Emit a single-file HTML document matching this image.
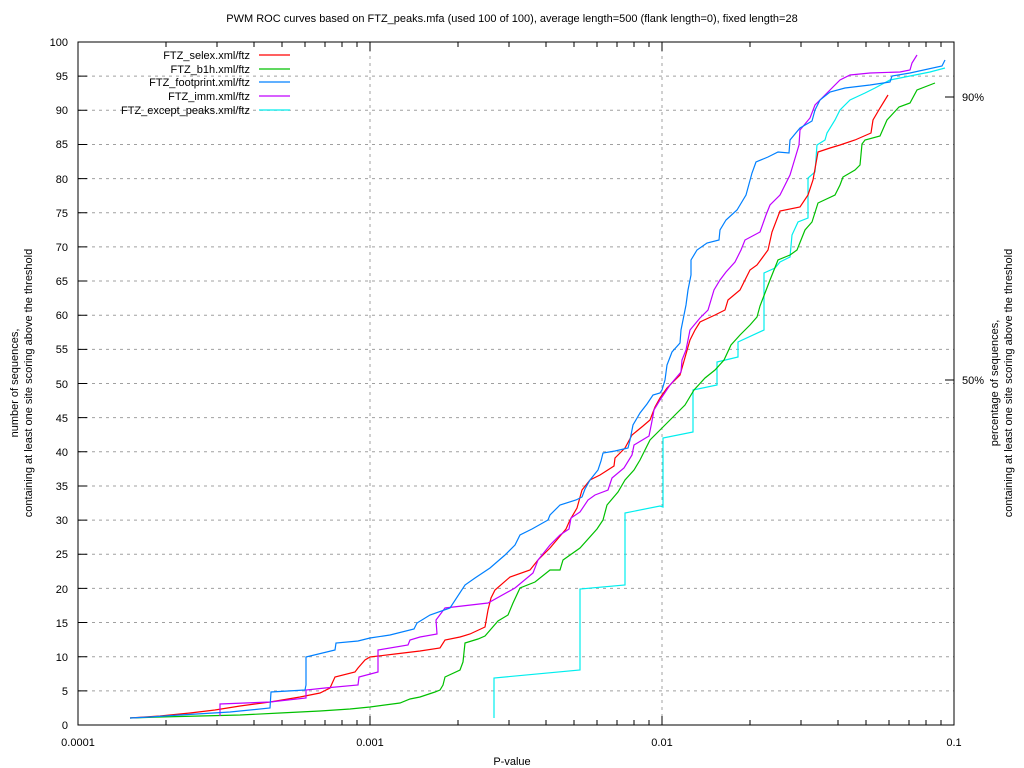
<!DOCTYPE html>
<html><head><meta charset="utf-8"><style>
body{margin:0;background:#fff}
svg{display:block;font-family:"Liberation Sans",sans-serif;font-size:11px}
</style></head><body>
<svg width="1024" height="768" viewBox="0 0 1024 768">
<rect width="1024" height="768" fill="#fff"/>
<text x="512" y="22" text-anchor="middle">PWM ROC curves based on FTZ_peaks.mfa (used 100 of 100), average length=500 (flank length=0), fixed length=28</text>
<g stroke="#a0a0a0" stroke-dasharray="3,4" stroke-width="1">
<line x1="78" x2="954" y1="690.85" y2="690.85"/><line x1="78" x2="954" y1="656.7" y2="656.7"/><line x1="78" x2="954" y1="622.55" y2="622.55"/><line x1="78" x2="954" y1="588.4" y2="588.4"/><line x1="78" x2="954" y1="554.25" y2="554.25"/><line x1="78" x2="954" y1="520.1" y2="520.1"/><line x1="78" x2="954" y1="485.95" y2="485.95"/><line x1="78" x2="954" y1="451.8" y2="451.8"/><line x1="78" x2="954" y1="417.65" y2="417.65"/><line x1="78" x2="954" y1="383.5" y2="383.5"/><line x1="78" x2="954" y1="349.35" y2="349.35"/><line x1="78" x2="954" y1="315.2" y2="315.2"/><line x1="78" x2="954" y1="281.05" y2="281.05"/><line x1="78" x2="954" y1="246.9" y2="246.9"/><line x1="78" x2="954" y1="212.75" y2="212.75"/><line x1="78" x2="954" y1="178.6" y2="178.6"/><line x1="78" x2="954" y1="144.45" y2="144.45"/><line x1="78" x2="954" y1="110.3" y2="110.3"/><line x1="78" x2="954" y1="76.15" y2="76.15"/>
<line x1="370" x2="370" y1="42" y2="725"/><line x1="662" x2="662" y1="42" y2="725"/>
</g>
<g stroke="#000" stroke-width="1">
<rect x="78" y="42" width="876" height="683" fill="none"/>
<path d="M78 690.85h9M78 656.7h9M78 622.55h9M78 588.4h9M78 554.25h9M78 520.1h9M78 485.95h9M78 451.8h9M78 417.65h9M78 383.5h9M78 349.35h9M78 315.2h9M78 281.05h9M78 246.9h9M78 212.75h9M78 178.6h9M78 144.45h9M78 110.3h9M78 76.15h9"/>
<path d="M370 725v-9M662 725v-9M370 42v9M662 42v9M954 97h-9M954 380h-9"/>
<path d="M166 725v-5M217 725v-5M254 725v-5M282 725v-5M305 725v-5M325 725v-5M342 725v-5M357 725v-5M458 725v-5M509 725v-5M546 725v-5M574 725v-5M597 725v-5M617 725v-5M634 725v-5M649 725v-5M750 725v-5M801 725v-5M838 725v-5M866 725v-5M889 725v-5M909 725v-5M926 725v-5M941 725v-5"/>
<path d="M166 42v5M217 42v5M254 42v5M282 42v5M305 42v5M325 42v5M342 42v5M357 42v5M458 42v5M509 42v5M546 42v5M574 42v5M597 42v5M617 42v5M634 42v5M649 42v5M750 42v5M801 42v5M838 42v5M866 42v5M889 42v5M909 42v5M926 42v5M941 42v5"/>
</g>
<g text-anchor="end">
<text x="68" y="729">0</text><text x="68" y="695">5</text><text x="68" y="661">10</text><text x="68" y="627">15</text><text x="68" y="593">20</text><text x="68" y="558">25</text><text x="68" y="524">30</text><text x="68" y="490">35</text><text x="68" y="456">40</text><text x="68" y="422">45</text><text x="68" y="388">50</text><text x="68" y="353">55</text><text x="68" y="319">60</text><text x="68" y="285">65</text><text x="68" y="251">70</text><text x="68" y="217">75</text><text x="68" y="183">80</text><text x="68" y="148">85</text><text x="68" y="114">90</text><text x="68" y="80">95</text><text x="68" y="46">100</text>
</g>
<g text-anchor="middle">
<text x="78" y="746">0.0001</text><text x="370" y="746">0.001</text><text x="662" y="746">0.01</text><text x="954" y="746">0.1</text>
<text x="512" y="765">P-value</text>
</g>
<text x="962" y="101">90%</text><text x="962" y="384">50%</text>
<text transform="translate(18,383) rotate(-90)" text-anchor="middle">number of sequences,</text>
<text transform="translate(32,383) rotate(-90)" text-anchor="middle">containing at least one site scoring above the threshold</text>
<text transform="translate(998,383) rotate(-90)" text-anchor="middle">percentage of sequences,</text>
<text transform="translate(1012,383) rotate(-90)" text-anchor="middle">containing at least one site scoring above the threshold</text>
<g text-anchor="end">
<text x="250" y="59">FTZ_selex.xml/ftz</text><text x="250" y="73">FTZ_b1h.xml/ftz</text><text x="250" y="86">FTZ_footprint.xml/ftz</text><text x="250" y="100">FTZ_imm.xml/ftz</text><text x="250" y="114">FTZ_except_peaks.xml/ftz</text>
</g>
<g fill="none" stroke-width="1.2">
<path stroke="#ff0000" d="M259 55h31"/><path stroke="#00c000" d="M259 69h31"/><path stroke="#0080ff" d="M259 82h31"/><path stroke="#c000ff" d="M259 96h31"/><path stroke="#00eeee" d="M259 110h31"/>
<polyline stroke="#00eeee" points="494,718 494,678 580,670 580,589 625,585 625,513 660,506 663,507 663,438 693,432 693,390 717,385 717,362 738,357 738,342 764,330 764,273 775,268 780,262 790,257 792,235 798,222 808,218 808,178 815,172 817,145 825,140 827,133 835,120 840,110 850,100 865,93 875,88 890,80 910,76 930,72 945,68"/>
<polyline stroke="#00c000" points="130,718 160,717 200,716 240,715 280,713 320,711 350,709 370,707 400,703 410,699 420,697 435,692 440,690 443,685 445,677 460,670 463,662 465,643 478,639 485,636 498,621 508,615 513,603 520,588 535,582 550,570 560,570 563,560 580,548 597,529 603,520 607,505 618,492 625,480 634,470 640,460 650,440 660,430 670,420 685,405 694,390 705,378 715,370 724,360 731,345 740,335 750,325 757,317 760,306 770,280 778,260 790,255 797,250 805,230 812,222 818,203 835,195 840,185 843,177 855,170 860,165 862,144 865,140 880,136 887,120 899,107 910,103 917,90 935,83"/>
<polyline stroke="#ff0000" points="130,718 160,716 190,713 215,710 240,706 270,702 300,697 320,693 330,688 335,677 355,672 358,668 365,660 370,657 395,654 420,651 440,648 445,640 460,637 470,634 485,627 488,610 491,598 495,590 510,577 530,570 538,560 550,548 566,529 570,520 577,508 582,490 590,480 600,475 614,466 615,458 625,448 632,435 643,426 650,420 655,407 660,398 667,388 680,375 690,340 695,330 700,322 715,315 725,310 728,300 740,290 745,280 750,270 757,265 768,250 772,232 780,211 800,207 808,195 813,180 818,152 830,148 840,145 855,140 871,133 873,120 880,108 888,95"/>
<polyline stroke="#c000ff" points="220,716 220,704 245,703 270,702 306,698 306,690 325,688 358,685 359,677 378,672 378,650 408,645 410,640 420,637 437,634 436,620 445,608 488,603 515,588 533,573 538,560 550,545 560,535 569,529 571,518 580,512 588,500 595,495 608,490 612,478 624,468 632,455 634,445 649,436 652,421 654,410 660,400 670,385 681,372 682,360 686,350 690,330 700,318 708,310 714,290 720,280 726,272 735,262 741,250 745,240 760,232 766,215 770,205 780,195 790,175 799,145 800,130 810,118 815,105 825,95 840,80 850,75 870,73 900,72 910,70 912,63 917,55"/>
<polyline stroke="#0080ff" points="130,718 150,717 180,715 230,712 270,708 271,692 305,690 306,685 306,657 335,650 336,643 358,641 370,638 390,635 414,629 417,623 430,615 450,608 465,585 475,578 490,568 505,555 515,545 520,535 532,529 548,520 550,515 560,505 576,500 582,497 585,489 590,480 598,470 601,461 603,453 615,451 628,448 630,440 633,425 640,413 647,404 653,395 660,393 662,390 665,380 667,365 672,352 680,343 681,330 684,315 686,305 688,290 691,275 691,260 697,250 707,243 719,240 720,230 726,220 737,210 746,195 752,173 756,162 768,157 778,152 789,153 790,140 800,128 812,121 815,110 820,100 830,92 845,88 870,85 890,82 892,76 910,73 942,66 945,60"/>
</g>
</svg>
</body></html>
